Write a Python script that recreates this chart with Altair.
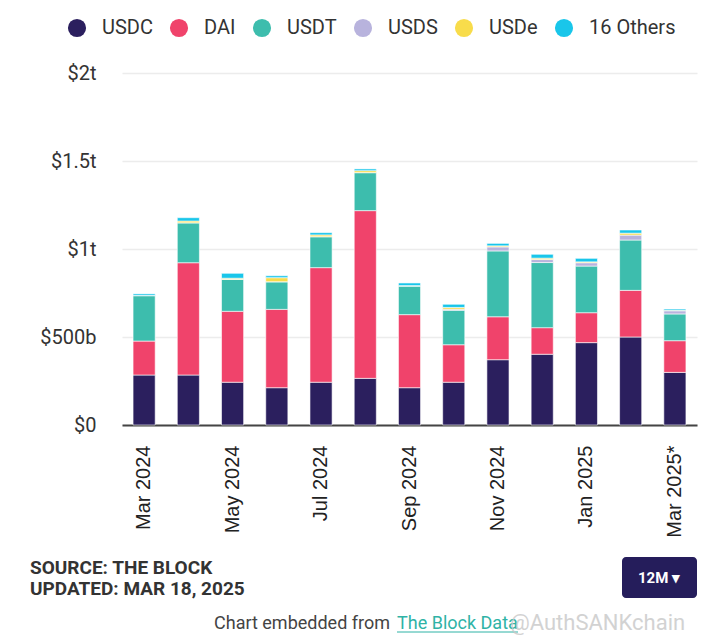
import altair as alt
import pandas as pd

months = ["Mar 2024", "Apr 2024", "May 2024", "Jun 2024", "Jul 2024", "Aug 2024",
          "Sep 2024", "Oct 2024", "Nov 2024", "Dec 2024", "Jan 2025", "Feb 2025", "Mar 2025*"]
shown_months = ["Mar 2024", "May 2024", "Jul 2024", "Sep 2024", "Nov 2024", "Jan 2025", "Mar 2025*"]
series = ["USDC", "DAI", "USDT", "USDS", "USDe", "16 Others"]
colors = ["#2b1f5e", "#f0436b", "#3dbdad", "#b8b3dd", "#f8dc4b", "#19c6ea"]

# values in billions of USD
usdc = [284, 284, 243, 212, 243, 265, 212, 243, 371, 402, 468, 500, 299]
dai = [193, 638, 403, 445, 651, 953, 415, 213, 244, 151, 170, 265, 180]
usdt = [258, 227, 182, 157, 176, 216, 163, 196, 374, 370, 265, 286, 152]
usds = [0, 0, 0, 0, 0, 0, 0, 6, 23, 17, 19, 28, 18]
usde = [1, 10, 6, 23, 10, 11, 2, 10, 6, 8, 5, 11, 3]
others = [9, 19, 28, 11, 13, 10, 15, 18, 14, 22, 20, 18, 7]

y_ticks = [0, 500, 1000, 1500, 2000]

rows = []
for i, m in enumerate(months):
    for j, vals in enumerate([usdc, dai, usdt, usds, usde, others]):
        rows.append({"month": m, "series": series[j], "value": vals[i], "order": j})
df = pd.DataFrame(rows)

bars = alt.Chart(df).mark_bar(stroke="white", strokeWidth=0.6).encode(
    x=alt.X("month:N", sort=months,
            scale=alt.Scale(paddingInner=0.5, paddingOuter=0.25),
            axis=alt.Axis(values=shown_months, title=None, labelAngle=270,
                          labelFont="Liberation Sans", labelFontSize=20, labelColor="#222",
                          labelPadding=20, ticks=False, domainColor="#444", domainWidth=2,
                          grid=False)),
    y=alt.Y("value:Q", stack="zero", scale=alt.Scale(domain=[0, 2000], nice=False),
            axis=alt.Axis(values=y_ticks, title=None, domain=False, ticks=False,
                          labelPadding=26, labelFont="Roboto", labelFontSize=20,
                          labelColor="#333", gridColor="#ececec", gridWidth=1.5,
                          labelExpr="datum.value == 0 ? '$0' : (datum.value < 1000 ? '$' + datum.value + 'b' : '$' + (datum.value/1000) + 't')")),
    color=alt.Color("series:N", scale=alt.Scale(domain=series, range=colors),
                    legend=alt.Legend(orient="none", legendX=-55, legendY=-55,
                                      direction="horizontal", title=None,
                                      symbolType="circle", symbolSize=330,
                                      symbolStrokeWidth=0, labelFont="Roboto",
                                      labelFontSize=20, labelColor="#333",
                                      labelOffset=15, columnPadding=16)),
    order=alt.Order("order:Q", sort="ascending"),
)

foot1 = alt.Chart(pd.DataFrame({"t": ["SOURCE: THE BLOCK"]})).mark_text(
    align="left", baseline="alphabetic", font="Roboto", fontSize=19, fontWeight="bold",
    color="#333").encode(text="t:N", x=alt.value(-92), y=alt.value(501))
foot2 = alt.Chart(pd.DataFrame({"t": ["UPDATED: MAR 18, 2025"]})).mark_text(
    align="left", baseline="alphabetic", font="Roboto", fontSize=19, fontWeight="bold",
    color="#333").encode(text="t:N", x=alt.value(-92), y=alt.value(522))
button = alt.Chart(pd.DataFrame({"t": ["12M ▾"]})).mark_rect(
    color="#251d5b", cornerRadius=4).encode(
    x=alt.value(500), x2=alt.value(575), y=alt.value(484), y2=alt.value(525))
button_text = alt.Chart(pd.DataFrame({"t": ["12M ▾"]})).mark_text(
    align="center", baseline="middle", font="Roboto", fontSize=15, fontWeight="bold",
    color="white").encode(text="t:N", x=alt.value(537), y=alt.value(505))
embed = alt.Chart(pd.DataFrame({"t": ["Chart embedded from"]})).mark_text(
    align="left", baseline="alphabetic", font="Roboto", fontSize=18,
    color="#444").encode(text="t:N", x=alt.value(92), y=alt.value(556))
link = alt.Chart(pd.DataFrame({"t": ["The Block Data"]})).mark_text(
    align="left", baseline="alphabetic", font="Roboto", fontSize=18,
    color="#2fb3a6").encode(text="t:N", x=alt.value(275), y=alt.value(556))
underline = alt.Chart(pd.DataFrame({"t": ["u"]})).mark_rule(
    color="#2fb3a6", strokeWidth=1).encode(
    x=alt.value(275), x2=alt.value(396), y=alt.value(559))
watermark = alt.Chart(pd.DataFrame({"t": ["@AuthSANKchain"]})).mark_text(
    align="left", baseline="alphabetic", font="Roboto", fontSize=22,
    color="#c8c8c8", opacity=0.8).encode(text="t:N", x=alt.value(388), y=alt.value(557))

chart = alt.layer(bars, foot1, foot2, button, button_text, embed, link, underline, watermark).properties(
    width=575, height=352,
    autosize=alt.AutoSizeParams(type="none"),
    padding={"left": 114, "top": 65, "right": 10, "bottom": 215},
    background="white",
).configure_view(stroke=None)

chart.save("out.html", embed_options={"renderer": "svg", "actions": False})
